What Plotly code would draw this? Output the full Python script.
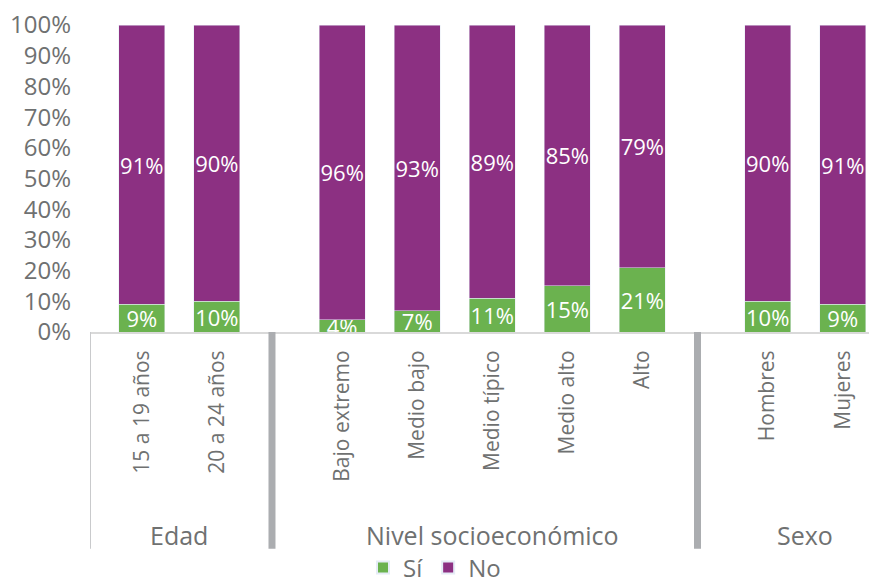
import plotly.graph_objects as go

# Categories by group
groups = ["Edad", "Nivel socioeconómico", "Sexo"]
cats_edad = ["15 a 19 años", "20 a 24 años"]
cats_nse = ["Bajo extremo", "Medio bajo", "Medio típico", "Medio alto", "Alto"]
cats_sexo = ["Hombres", "Mujeres"]

# Shares (%) per category, in the same order as the categories above
si = [9, 10, 4, 7, 11, 15, 21, 10, 9]
no = [91, 90, 96, 93, 89, 85, 79, 90, 91]

GREEN = "#6BB24F"
PURPLE = "#8C3082"
GRAY_TXT = "#6F7171"
FONT = "Open Sans"

# Build x positions: consecutive slots, with an extra gap between groups
group_cats = [cats_edad, cats_nse, cats_sexo]
GAP = 0.67
xpos, labels, group_centers, separators = [], [], [], []
cur = 0.0
for gi, cats in enumerate(group_cats):
    start = cur
    for c in cats:
        xpos.append(cur)
        labels.append(c)
        cur += 1
    group_centers.append((start + cur - 1) / 2)
    if gi < len(group_cats) - 1:
        separators.append(cur - 1 + (1 + GAP) / 2 - 0.1)
    cur += GAP

fig = go.Figure()
common = dict(width=0.61, textposition="inside", insidetextanchor="middle",
              textangle=0, constraintext="none", cliponaxis=True,
              textfont=dict(color="white", size=22, family=FONT))
fig.add_trace(go.Bar(x=xpos, y=si, name="Sí", marker_color=GREEN,
                     text=[f"{v}%" for v in si], **common))
fig.add_trace(go.Bar(x=xpos, y=no, name="No", marker_color=PURPLE,
                     text=[f"{v}%" for v in no], **common))

x_lo, x_hi = -0.69, xpos[-1] + 0.35
plot_h = 308.0
bottom_y = -217.5 / plot_h  # where the category frame ends

shapes = [
    dict(type="line", xref="x", yref="paper", x0=x_lo, x1=x_lo, y0=0, y1=bottom_y,
         line=dict(color="#C9CACC", width=2)),
]
for s in separators:
    shapes.append(dict(type="line", xref="x", yref="paper", x0=s, x1=s, y0=0, y1=bottom_y,
                       line=dict(color="#ABADB0", width=7)))

annotations = [
    dict(x=c, y=-204.0 / plot_h, xref="x", yref="paper", text=g, showarrow=False,
         font=dict(size=25, color=GRAY_TXT, family=FONT), xanchor="center", yanchor="middle")
    for g, c in zip(groups, group_centers)
]

fig.update_layout(
    barmode="stack",
    width=869, height=583,
    margin=dict(l=90, r=0, t=24.5, b=250.5),
    plot_bgcolor="white", paper_bgcolor="white",
    font=dict(family=FONT, color=GRAY_TXT),
    shapes=shapes,
    annotations=annotations,
    legend=dict(orientation="h", xref="container", yref="container",
                x=0.5, xanchor="center", y=0.026, yanchor="middle",
                font=dict(size=24, color=GRAY_TXT, family=FONT),
                itemsizing="constant", traceorder="normal", itemwidth=30,
                tracegroupgap=0),
    xaxis=dict(range=[x_lo, x_hi], tickvals=xpos, ticktext=labels, tickangle=-90,
               tickfont=dict(size=21, color=GRAY_TXT, family=FONT),
               showgrid=False, zeroline=False, showline=True,
               linecolor="#D9D9D9", linewidth=2, ticks="", ticklabelstandoff=8),
    yaxis=dict(range=[0, 100], tickvals=list(range(0, 101, 10)),
               ticktext=[f"{v}%" for v in range(0, 101, 10)],
               tickfont=dict(size=24, color=GRAY_TXT, family=FONT),
               showgrid=False, zeroline=False, showline=False, ticks="",
               ticklabelstandoff=18),
)

fig.write_html("out.html")
